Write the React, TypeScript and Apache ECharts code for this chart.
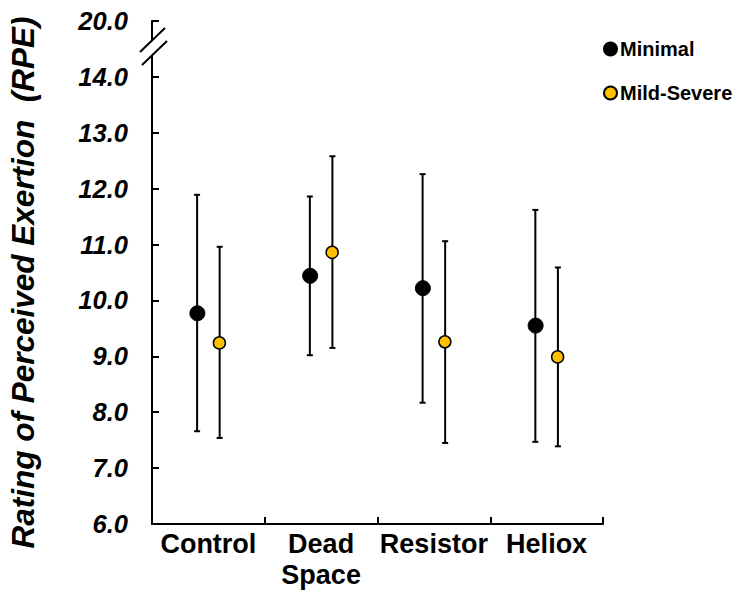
import React, { useEffect, useRef } from "react";
import * as echarts from "echarts";

const categories = ["Control", "Dead\nSpace", "Resistor", "Heliox"];
const minimalMean = [9.77, 10.44, 10.22, 9.55];
const minimalUpper = [11.89, 11.86, 12.26, 11.62];
const minimalLower = [7.66, 9.02, 8.17, 7.47];
const mildMean = [9.24, 10.86, 9.26, 8.99];
const mildUpper = [10.96, 12.58, 11.06, 10.59];
const mildLower = [7.54, 9.15, 7.45, 7.39];
// axis positions 6..15; the top position stands for 20.0 after the axis break
const yTickLabels = ["6.0", "7.0", "8.0", "9.0", "10.0", "11.0", "12.0", "13.0", "14.0", "20.0"];

const FONT = "'Liberation Sans', Arial, sans-serif";

function errorSeries(name: string, lower: number[], upper: number[], side: number) {
  return {
    type: "custom",
    name: name + " SD",
    z: 2,
    silent: true,
    encode: { x: 0, y: [1, 2] },
    data: lower.map((l, i) => [i, l, upper[i]]),
    renderItem: (params: any, api: any) => {
      const band = api.size([1, 0])[0];
      const off = side * band * 0.1;
      const lo = api.coord([api.value(0), api.value(1)]);
      const hi = api.coord([api.value(0), api.value(2)]);
      const x = lo[0] + off;
      const cap = 3;
      const style = { stroke: "#000", lineWidth: 2 };
      return {
        type: "group",
        children: [
          { type: "line", shape: { x1: x, y1: lo[1], x2: x, y2: hi[1] }, style },
          { type: "line", shape: { x1: x - cap, y1: lo[1], x2: x + cap, y2: lo[1] }, style },
          { type: "line", shape: { x1: x - cap, y1: hi[1], x2: x + cap, y2: hi[1] }, style },
        ],
      };
    },
  };
}

export default function App() {
  const ref = useRef<HTMLDivElement>(null);
  useEffect(() => {
    if (!ref.current) return;
    const chart = echarts.init(ref.current, null, { renderer: "svg" });
    chart.setOption({
      animation: false,
      backgroundColor: "#fff",
      grid: { left: 152, right: 138, top: 21, bottom: 70, containLabel: false, outerBoundsMode: "none" },
      legend: {
        orient: "vertical",
        left: 598,
        top: 34,
        itemWidth: 13,
        itemHeight: 13,
        itemGap: 24,
        icon: "circle",
        textStyle: { fontFamily: FONT, fontWeight: "bold", fontSize: 20, color: "#000", padding: [0, 0, 0, -2] },
        data: ["Minimal", "Mild-Severe"],
      },
      xAxis: {
        type: "category",
        data: categories,
        boundaryGap: true,
        axisLine: { show: true, lineStyle: { color: "#000", width: 2 } },
        axisTick: { show: true, inside: true, length: 7, lineStyle: { color: "#000", width: 2 } },
        axisLabel: {
          color: "#000",
          fontFamily: FONT,
          fontWeight: "bold",
          fontSize: 27,
          lineHeight: 31,
          margin: 4,
          interval: 0,
        },
        splitLine: { show: false },
      },
      yAxis: {
        type: "value",
        min: 6,
        max: 15,
        interval: 1,
        name: "Rating of Perceived Exertion  (RPE)",
        nameLocation: "middle",
        nameGap: 113,
        nameTextStyle: {
          fontFamily: FONT,
          fontWeight: "bold",
          fontStyle: "italic",
          fontSize: 31.5,
          color: "#000",
          padding: [0, 20, 0, 0],
        },
        axisLine: { show: true, lineStyle: { color: "#000", width: 2 } },
        axisTick: { show: true, inside: true, length: 7, lineStyle: { color: "#000", width: 2 } },
        axisLabel: {
          color: "#000",
          fontFamily: FONT,
          fontWeight: "bold",
          fontStyle: "italic",
          fontSize: 25.5,
          margin: 24,
          formatter: (v: number) => yTickLabels[Math.round(v - 6)] ?? "",
        },
        splitLine: { show: false },
      },
      series: [
        errorSeries("Minimal", minimalLower, minimalUpper, -1),
        errorSeries("Mild-Severe", mildLower, mildUpper, 1),
        {
          type: "scatter",
          name: "Minimal",
          z: 5,
          data: minimalMean,
          symbol: "circle",
          symbolSize: 15,
          symbolOffset: [-11, 0],
          itemStyle: { color: "#000", borderColor: "#000", borderWidth: 1, opacity: 1 },
        },
        {
          type: "scatter",
          name: "Mild-Severe",
          z: 5,
          data: mildMean,
          symbol: "circle",
          symbolSize: 12,
          symbolOffset: [11, 0],
          itemStyle: { color: "#FFC000", borderColor: "#000", borderWidth: 1.5, opacity: 1 },
        },
      ],
      graphic: [
        {
          type: "polygon",
          z: 100,
          shape: { points: [[141, 52], [165, 29], [167, 41], [143, 64]] },
          style: { fill: "#fff", stroke: "none" },
        },
        {
          type: "line",
          z: 101,
          shape: { x1: 140, y1: 52, x2: 165, y2: 28 },
          style: { stroke: "#000", lineWidth: 2 },
        },
        {
          type: "line",
          z: 101,
          shape: { x1: 142, y1: 65, x2: 167, y2: 41 },
          style: { stroke: "#000", lineWidth: 2 },
        },
      ],
    });
    return () => chart.dispose();
  }, []);
  return (
    <div
      ref={ref}
      style={{ position: "absolute", left: 0, top: 0, width: 741, height: 594 }}
    />
  );
}
